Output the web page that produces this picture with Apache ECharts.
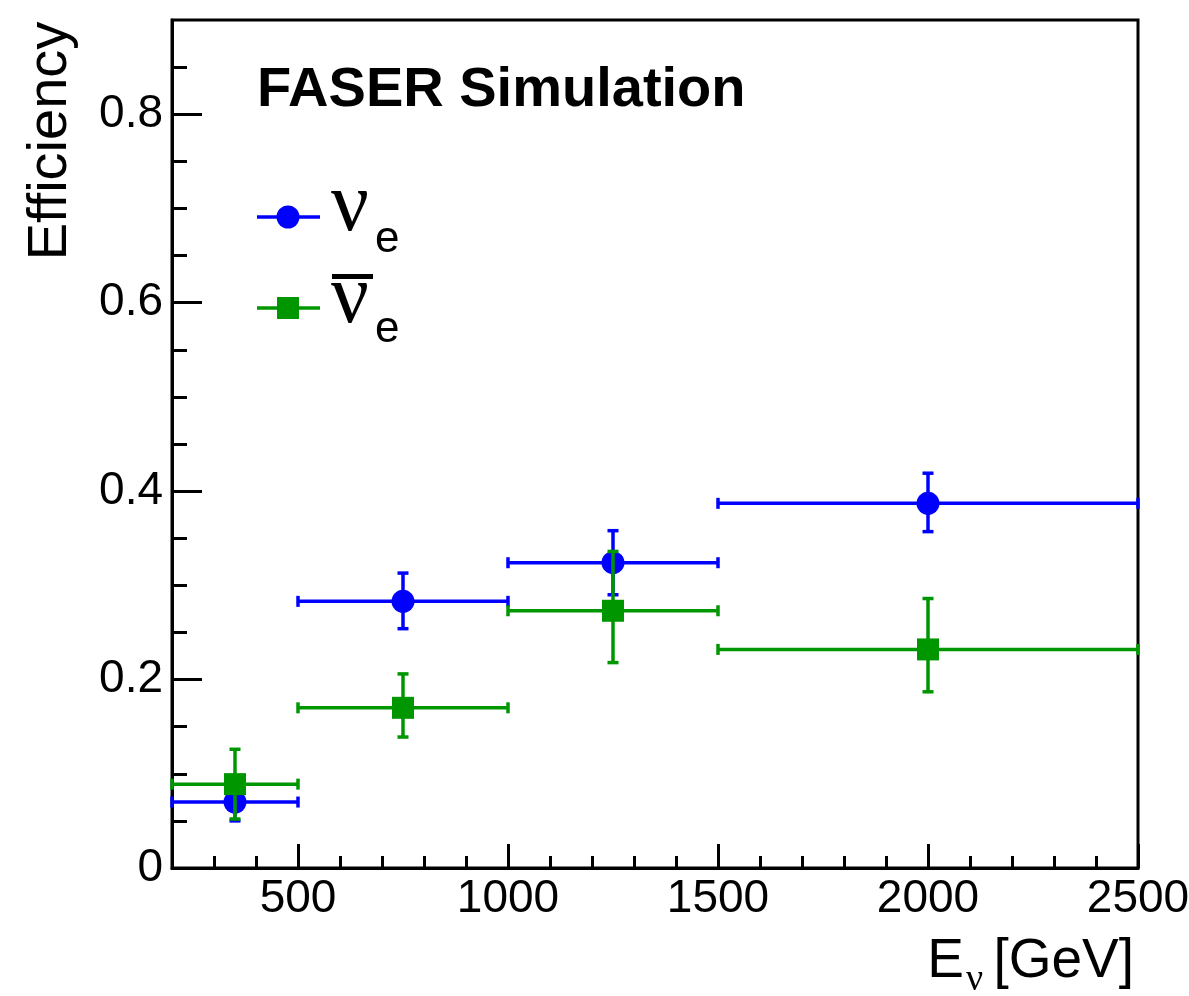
<!DOCTYPE html>
<html>
<head>
<meta charset="utf-8">
<title>FASER Simulation - Efficiency</title>
<script src="https://cdn.jsdelivr.net/npm/echarts@6/dist/echarts.min.js"></script>
<style>
  html, body { margin: 0; padding: 0; background: #fff; }
  #chart { width: 1189px; height: 996px; }
</style>
</head>
<body>
<div id="chart"></div>
<script>
// energy bins [GeV]
const binLo = [200, 500, 1000, 1500];
const binHi = [500, 1000, 1500, 2500];
const binCenter = [350, 750, 1250, 2000];

// nu_e efficiency and error band
const nueEff = [0.070, 0.283, 0.324, 0.387];
const nueLow = [0.050, 0.254, 0.290, 0.357];
const nueHigh = [0.090, 0.313, 0.358, 0.419];

// anti nu_e efficiency and error band
const nuebarEff = [0.089, 0.170, 0.273, 0.232];
const nuebarLow = [0.052, 0.139, 0.218, 0.187];
const nuebarHigh = [0.126, 0.206, 0.336, 0.286];

// axis ticks
const xMajorTicks = [500, 1000, 1500, 2000, 2500];
const xMinorTicks = [300, 400, 600, 700, 800, 900, 1100, 1200, 1300, 1400,
                     1600, 1700, 1800, 1900, 2100, 2200, 2300, 2400];
const yMajorTicks = [0, 0.2, 0.4, 0.6, 0.8];
const yMinorTicks = [0.05, 0.1, 0.15, 0.25, 0.3, 0.35, 0.45, 0.5, 0.55,
                     0.65, 0.7, 0.75, 0.85];

const BLUE = '#0000ff';
const GREEN = '#009600';
const SANS = '"Liberation Sans", Arial, Helvetica, sans-serif';
const SERIF = '"Liberation Serif", "Times New Roman", serif';

function buildRows(eff, low, high) {
    return binCenter.map((c, i) => [c, eff[i], binLo[i], binHi[i], low[i], high[i]]);
}

// draws the x and y error bars with small end caps
function errorBars(color) {
    return function (params, api) {
        const x = api.value(0), y = api.value(1);
        const pL = api.coord([api.value(2), y]);
        const pR = api.coord([api.value(3), y]);
        const pB = api.coord([x, api.value(4)]);
        const pT = api.coord([x, api.value(5)]);
        const style = { stroke: color, lineWidth: 3.5, fill: null };
        const c = 5.5;
        const seg = (x1, y1, x2, y2) => ({
            type: 'line', shape: { x1: x1, y1: y1, x2: x2, y2: y2 }, style: style
        });
        return {
            type: 'group',
            children: [
                seg(pL[0], pL[1], pR[0], pR[1]),
                seg(pL[0], pL[1] - c, pL[0], pL[1] + c),
                seg(pR[0], pR[1] - c, pR[0], pR[1] + c),
                seg(pB[0], pB[1], pT[0], pT[1]),
                seg(pB[0] - c, pB[1], pB[0] + c, pB[1]),
                seg(pT[0] - c, pT[1], pT[0] + c, pT[1])
            ]
        };
    };
}

const nueRows = buildRows(nueEff, nueLow, nueHigh);
const nuebarRows = buildRows(nuebarEff, nuebarLow, nuebarHigh);

const chart = echarts.init(document.getElementById('chart'), null, { renderer: 'canvas' });

const axisText = { fontFamily: SANS, fontSize: 46, color: '#000' };

const option = {
    backgroundColor: '#fff',
    animation: false,
    grid: {
        left: 172, right: 51, top: 20, bottom: 128,
        outerBoundsMode: 'none', containLabel: false,
        show: true, borderColor: '#000', borderWidth: 3, backgroundColor: 'transparent'
    },
    xAxis: [{
        type: 'value', min: 200, max: 2500,
        axisLine: { show: true, lineStyle: { color: '#000', width: 3 } },
        splitLine: { show: false },
        axisTick: { show: true, inside: true, length: 24, lineStyle: { color: '#000', width: 3 },
                    customValues: xMajorTicks },
        axisLabel: Object.assign({ margin: 8, customValues: xMajorTicks, hideOverlap: false,
                                   formatter: v => String(v) }, axisText)
    }, {
        type: 'value', min: 200, max: 2500, position: 'bottom',
        axisLine: { show: false },
        splitLine: { show: false },
        axisTick: { show: true, inside: true, length: 12, lineStyle: { color: '#000', width: 3 },
                    customValues: xMinorTicks },
        axisLabel: { show: false }
    }],
    yAxis: [{
        type: 'value', min: 0, max: 0.9,
        axisLine: { show: true, lineStyle: { color: '#000', width: 3 } },
        splitLine: { show: false },
        axisTick: { show: true, inside: true, length: 30, lineStyle: { color: '#000', width: 3 },
                    customValues: yMajorTicks },
        axisLabel: Object.assign({ margin: 9, customValues: yMajorTicks,
                                   formatter: v => (v === 0 ? '0' : v.toFixed(1)) }, axisText)
    }, {
        type: 'value', min: 0, max: 0.9, position: 'left',
        axisLine: { show: false },
        splitLine: { show: false },
        axisTick: { show: true, inside: true, length: 15, lineStyle: { color: '#000', width: 3 },
                    customValues: yMinorTicks },
        axisLabel: { show: false }
    }],
    series: [
        {
            name: 'nue-err', type: 'custom', xAxisIndex: 0, yAxisIndex: 0,
            renderItem: errorBars(BLUE), data: nueRows, z: 2,
            encode: { x: [0, 2, 3], y: [1, 4, 5] }
        },
        {
            name: 'nue', type: 'scatter', xAxisIndex: 0, yAxisIndex: 0,
            symbol: 'circle', symbolSize: 23, itemStyle: { color: BLUE, opacity: 1 },
            data: binCenter.map((c, i) => [c, nueEff[i]]), z: 3
        },
        {
            name: 'nuebar-err', type: 'custom', xAxisIndex: 0, yAxisIndex: 0,
            renderItem: errorBars(GREEN), data: nuebarRows, z: 4,
            encode: { x: [0, 2, 3], y: [1, 4, 5] }
        },
        {
            name: 'nuebar', type: 'scatter', xAxisIndex: 0, yAxisIndex: 0,
            symbol: 'rect', symbolSize: 22, itemStyle: { color: GREEN, opacity: 1 },
            data: binCenter.map((c, i) => [c, nuebarEff[i]]), z: 5
        }
    ],
    graphic: [
        // header
        { type: 'text', left: 257, top: 63, z: 10,
          style: { text: 'FASER Simulation', font: 'bold 56px ' + SANS, fill: '#000' } },
        // y title
        { type: 'text', x: 51, y: 141, rotation: Math.PI / 2, z: 10,
          style: { text: 'Efficiency', font: '56px ' + SANS, fill: '#000',
                   align: 'center', verticalAlign: 'middle' } },
        // x title
        { type: 'text', x: 964, y: 962, z: 10,
          style: { text: 'E', font: '55px ' + SANS, fill: '#000', align: 'right', verticalAlign: 'middle' } },
        { type: 'text', x: 966, y: 980, z: 10,
          style: { text: 'ν', font: '38px ' + SERIF, fill: '#000', align: 'left', verticalAlign: 'middle' } },
        { type: 'text', x: 1134, y: 962, z: 10,
          style: { text: '[GeV]', font: '55px ' + SANS, fill: '#000', align: 'right', verticalAlign: 'middle' } },
        // legend: nu_e
        { type: 'line', z: 10, shape: { x1: 257, y1: 217, x2: 320, y2: 217 },
          style: { stroke: BLUE, lineWidth: 3.5 } },
        { type: 'circle', z: 11, shape: { cx: 288, cy: 217, r: 11.5 }, style: { fill: BLUE } },
        { type: 'text', x: 331, y: 208, z: 10,
          style: { text: 'ν', font: '84px ' + SERIF, fill: '#000', align: 'left', verticalAlign: 'middle' } },
        { type: 'text', x: 375, y: 240, z: 10,
          style: { text: 'e', font: '44px ' + SANS, fill: '#000', align: 'left', verticalAlign: 'middle' } },
        // legend: anti nu_e
        { type: 'line', z: 10, shape: { x1: 257, y1: 308, x2: 320, y2: 308 },
          style: { stroke: GREEN, lineWidth: 3.5 } },
        { type: 'rect', z: 11, shape: { x: 277, y: 297, width: 22, height: 22 }, style: { fill: GREEN } },
        { type: 'rect', z: 10, shape: { x: 332, y: 274, width: 41, height: 5 }, style: { fill: '#000' } },
        { type: 'text', x: 331, y: 300, z: 10,
          style: { text: 'ν', font: '84px ' + SERIF, fill: '#000', align: 'left', verticalAlign: 'middle' } },
        { type: 'text', x: 375, y: 330, z: 10,
          style: { text: 'e', font: '44px ' + SANS, fill: '#000', align: 'left', verticalAlign: 'middle' } }
    ]
};

chart.setOption(option);
</script>
</body>
</html>
